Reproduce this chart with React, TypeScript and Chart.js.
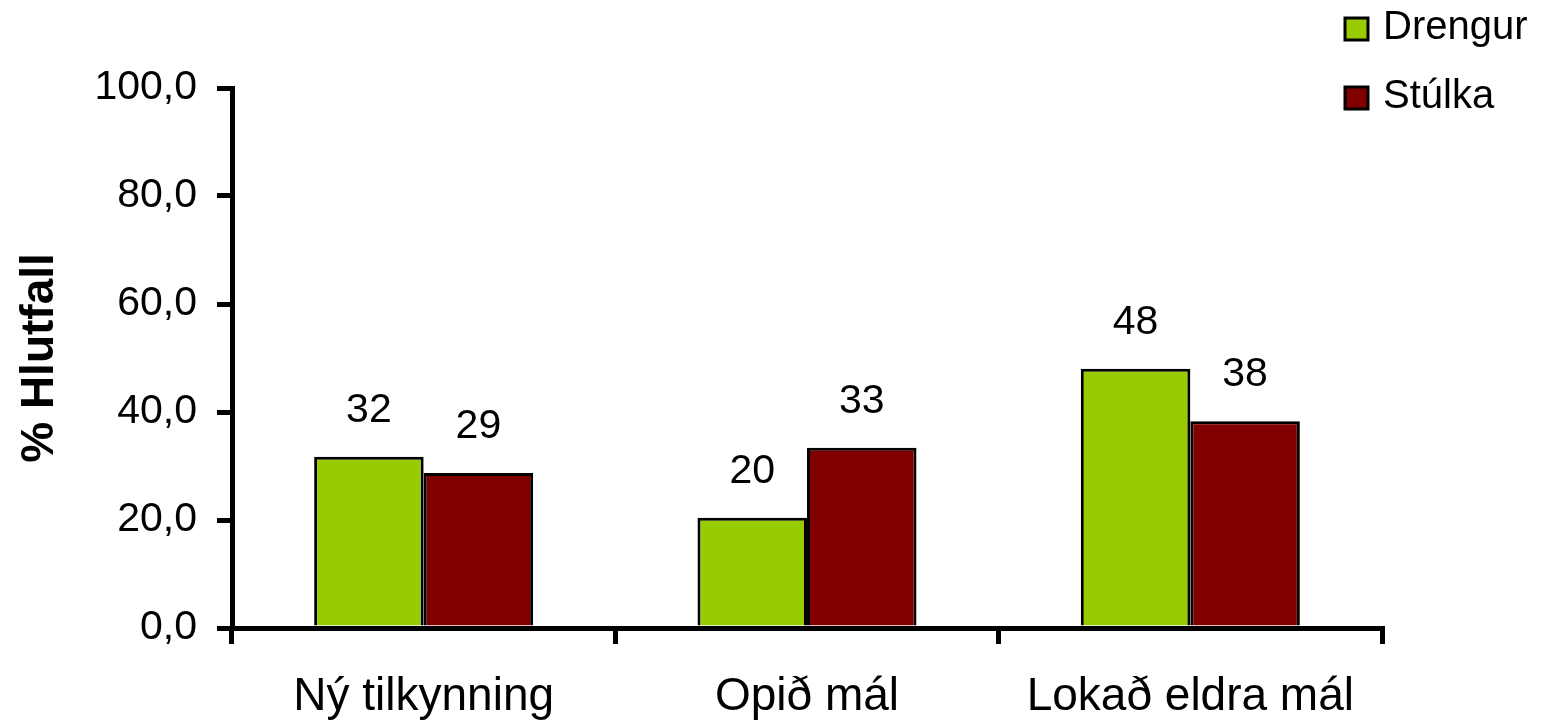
import React, { useEffect, useRef } from "react";
import { Chart, registerables } from "chart.js";

Chart.register(...registerables);

const categories = ["Ný tilkynning", "Opið mál", "Lokað eldra mál"];
const drengur = [31.7, 20.4, 48.0];
const stulka = [28.7, 33.4, 38.3];
const seriesNames = ["Drengur", "Stúlka"];
const seriesColors = ["#99CC00", "#800000"];
const yTitle = "% Hlutfall";

const FONT = "'Liberation Sans', Arial, sans-serif";

const valueLabels = {
  id: "valueLabels",
  afterDatasetsDraw(chart: any) {
    const ctx = chart.ctx;
    ctx.save();
    ctx.font = `41px ${FONT}`;
    ctx.fillStyle = "#000";
    ctx.textAlign = "center";
    ctx.textBaseline = "middle";
    chart.data.datasets.forEach((ds: any, i: number) => {
      const meta = chart.getDatasetMeta(i);
      meta.data.forEach((bar: any, j: number) => {
        ctx.fillText(String(Math.round(ds.data[j])), bar.x, bar.y - 46);
      });
    });
    ctx.restore();
  },
};

const customLegend = {
  id: "customLegend",
  afterDraw(chart: any) {
    const ctx = chart.ctx;
    ctx.save();
    ctx.font = `40px ${FONT}`;
    ctx.textAlign = "left";
    ctx.textBaseline = "middle";
    chart.data.datasets.forEach((ds: any, i: number) => {
      const y = 18 + i * 69;
      ctx.fillStyle = ds.backgroundColor;
      ctx.fillRect(1345, y, 23, 22);
      ctx.lineWidth = 3;
      ctx.strokeStyle = "#000";
      ctx.strokeRect(1345, y, 23, 22);
      ctx.fillStyle = "#000";
      ctx.fillText(ds.label, 1383, y + 10);
    });
    ctx.restore();
  },
};

export default function App() {
  const ref = useRef<HTMLCanvasElement | null>(null);
  useEffect(() => {
    if (!ref.current) return;
    const chart = new Chart(ref.current, {
      type: "bar",
      data: {
        labels: categories,
        datasets: [
          {
            label: seriesNames[0],
            data: drengur,
            backgroundColor: seriesColors[0],
            borderColor: "#000",
            borderWidth: 3,
            categoryPercentage: 0.5714,
            barPercentage: 1,
          },
          {
            label: seriesNames[1],
            data: stulka,
            backgroundColor: seriesColors[1],
            borderColor: "#000",
            borderWidth: 3,
            categoryPercentage: 0.5714,
            barPercentage: 1,
          },
        ],
      },
      options: {
        responsive: false,
        animation: false,
        devicePixelRatio: 1,
        layout: { padding: { top: 88, right: 159, bottom: 0, left: 0 } },
        plugins: {
          legend: { display: false },
          tooltip: { enabled: false },
        },
        scales: {
          x: {
            offset: true,
            grid: {
              offset: true,
              drawOnChartArea: false,
              drawTicks: true,
              tickLength: 16,
              color: "#000",
              lineWidth: 5,
            },
            border: { display: true, color: "#000", width: 5 },
            ticks: {
              color: "#000",
              font: { family: FONT, size: 46 },
              padding: 26,
              maxRotation: 0,
            },
            afterFit(scale: any) {
              scale.height = 100;
            },
          },
          y: {
            min: 0,
            max: 100,
            grid: {
              drawOnChartArea: false,
              drawTicks: true,
              tickLength: 15,
              color: "#000",
              lineWidth: 5,
            },
            border: { display: true, color: "#000", width: 5 },
            ticks: {
              stepSize: 20,
              color: "#000",
              font: { family: FONT, size: 41 },
              padding: 20,
              callback: (v: any) => Number(v).toFixed(1).replace(".", ","),
            },
            title: {
              display: true,
              text: yTitle,
              color: "#000",
              font: { family: FONT, size: 46, weight: "bold" },
              padding: { top: 13, bottom: 0 },
            },
            afterFit(scale: any) {
              scale.width = 232;
            },
          },
        },
      },
      plugins: [valueLabels, customLegend],
    });
    return () => chart.destroy();
  }, []);
  return (
    <div style={{ position: "fixed", left: 0, top: 0, width: 1541, height: 728, background: "#fff" }}>
      <canvas ref={ref} width={1541} height={728} style={{ width: 1541, height: 728, display: "block" }} />
    </div>
  );
}
